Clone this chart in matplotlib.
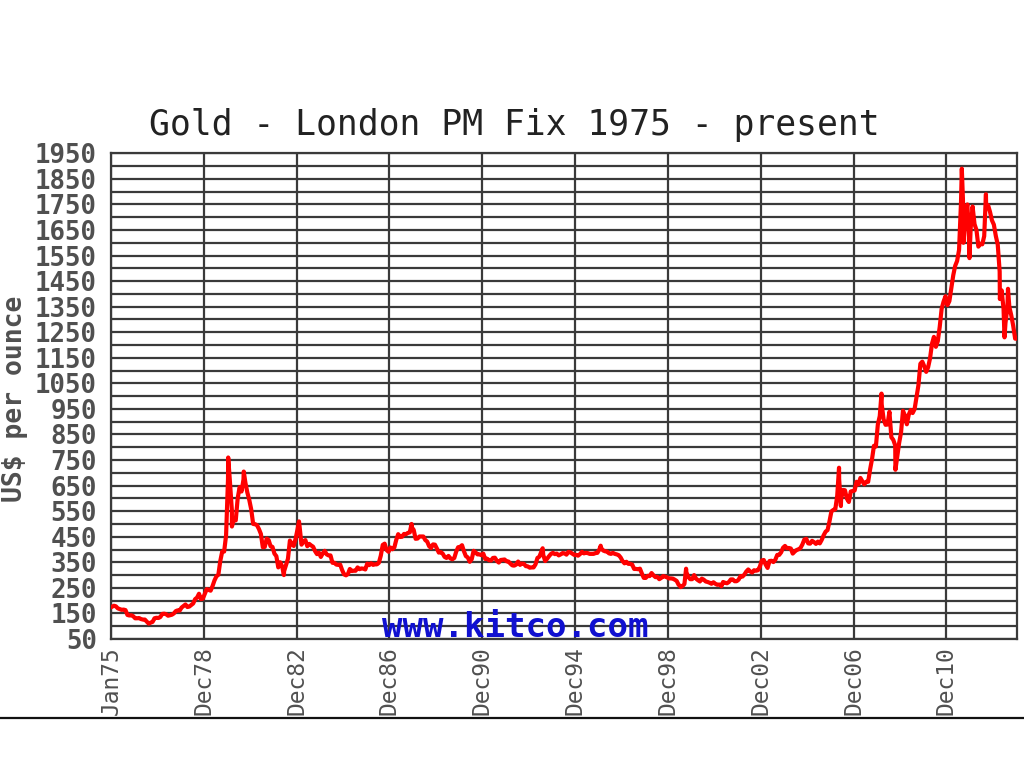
import matplotlib
matplotlib.use('Agg')
import matplotlib.pyplot as plt
from matplotlib.lines import Line2D
import numpy as np

# monthly London PM fix, US$ per ounce, Jan 1975 .. Dec 2013
start_year = 1975
monthly_price = [
    176, 180, 178, 170, 167, 164, 165, 163, 144, 142, 143, 139,   # 1975
    131, 131, 132, 128, 126, 126, 118, 110, 114, 117, 131, 133,   # 1976
    132, 136, 148, 149, 147, 141, 143, 145, 150, 159, 162, 161,   # 1977
    173, 179, 185, 175, 177, 183, 189, 206, 212, 227, 206, 208,   # 1978
    227, 245, 242, 239, 257, 279, 295, 301, 355, 392, 392, 455,   # 1979
    675, 665, 553, 517, 514, 600, 644, 627, 674, 661, 623, 594,   # 1980
    557, 500, 499, 495, 480, 461, 409, 410, 443, 437, 413, 410,   # 1981
    384, 374, 330, 350, 334, 315, 339, 364, 435, 422, 414, 444,   # 1982
    481, 491, 419, 432, 437, 413, 422, 416, 411, 394, 382, 388,   # 1983
    371, 385, 395, 381, 377, 377, 348, 348, 341, 340, 341, 320,   # 1984
    303, 299, 304, 324, 316, 317, 317, 330, 323, 326, 325, 322,   # 1985
    345, 339, 346, 340, 342, 342, 348, 376, 418, 423, 398, 391,   # 1986
    408, 401, 408, 438, 460, 449, 450, 461, 460, 465, 467, 487,   # 1987
    477, 442, 443, 451, 451, 451, 437, 431, 413, 406, 420, 419,   # 1988
    404, 388, 390, 384, 371, 367, 375, 365, 362, 367, 392, 409,   # 1989
    410, 417, 393, 374, 369, 352, 362, 395, 389, 381, 381, 378,   # 1990
    384, 363, 364, 358, 357, 367, 368, 356, 349, 359, 360, 361,   # 1991
    354, 353, 345, 338, 337, 341, 353, 340, 345, 344, 335, 334,   # 1992
    329, 330, 330, 342, 367, 372, 392, 379, 355, 364, 374, 383,   # 1993
    387, 382, 384, 377, 381, 386, 385, 380, 391, 389, 384, 379,   # 1994
    379, 376, 382, 391, 385, 387, 386, 383, 383, 383, 386, 387,   # 1995
    400, 405, 396, 393, 392, 385, 383, 387, 383, 381, 378, 369,   # 1996
    355, 346, 352, 344, 344, 341, 324, 324, 323, 325, 306, 289,   # 1997
    289, 297, 296, 308, 299, 292, 293, 284, 289, 296, 294, 291,   # 1998
    287, 287, 286, 282, 277, 262, 256, 257, 265, 311, 293, 284,   # 1999
    284, 300, 286, 280, 275, 286, 282, 275, 273, 270, 266, 272,   # 2000
    266, 262, 263, 261, 273, 270, 268, 273, 283, 283, 276, 276,   # 2001
    282, 296, 294, 302, 314, 322, 314, 310, 319, 317, 319, 333,   # 2002
    357, 359, 341, 328, 355, 356, 351, 360, 379, 379, 389, 407,   # 2003
    414, 405, 406, 404, 384, 392, 398, 401, 406, 420, 439, 442,   # 2004
    424, 423, 434, 429, 422, 431, 424, 438, 456, 470, 476, 510,   # 2005
    549, 555, 557, 610, 676, 596, 633, 632, 599, 586, 627, 629,   # 2006
    631, 665, 655, 680, 667, 655, 665, 665, 713, 754, 806, 803,   # 2007
    889, 922, 968, 909, 888, 889, 939, 839, 829, 807, 760, 816,   # 2008
    858, 943, 924, 890, 928, 946, 934, 949, 996, 1043, 1127, 1135,   # 2009
    1117, 1095, 1113, 1148, 1205, 1232, 1193, 1215, 1271, 1342, 1370, 1391,   # 2010
    1356, 1372, 1424, 1473, 1510, 1529, 1572, 1756, 1772, 1665, 1739, 1652,   # 2011
    1656, 1742, 1673, 1650, 1585, 1596, 1594, 1626, 1744, 1747, 1721, 1688,   # 2012
    1671, 1627, 1593, 1487, 1414, 1343, 1286, 1347, 1349, 1316, 1275, 1225,   # 2013
]

# daily extremes that show up as spikes on the chart
spike_dates = [1980.05, 1980.21, 1980.72, 1982.45, 1983.10, 1987.95, 1993.60,
               1996.10, 1999.55, 1999.78, 2001.30, 2006.37, 2006.45, 2008.20,
               2008.80, 2011.66, 2011.73, 2011.90, 2011.99, 2012.70, 2013.30,
               2013.50, 2013.65, 2013.99]
spike_prices = [760, 490, 705, 300, 510, 500, 405,
                415, 253, 325, 256, 720, 570, 1010,
                712, 1890, 1600, 1750, 1540, 1790, 1380,
                1230, 1420, 1225]

tick_years = [1975, 1979, 1983, 1987, 1991, 1995, 1999, 2003, 2007, 2011]
tick_labels = ['Jan75', 'Dec78', 'Dec82', 'Dec86', 'Dec90', 'Dec94',
               'Dec98', 'Dec02', 'Dec06', 'Dec10']

month_dates = start_year + (np.arange(len(monthly_price)) + 0.5) / 12.0
dates = np.concatenate([month_dates, spike_dates])
prices = np.concatenate([monthly_price, spike_prices])
order = np.argsort(dates)
dates, prices = dates[order], prices[order]

grid_col = '#3a3a3a'
label_col = '#505050'

fig = plt.figure(figsize=(10.24, 7.67), dpi=100)
ax = fig.add_axes([0.1084, 0.1669, 0.8848, 0.6332])

ax.plot(dates, prices, color='#ff0000', lw=3.0, zorder=3)

ax.set_xlim(1975.0, 2014.04)
ax.set_ylim(50, 1950)
ax.set_yticks(np.arange(50, 1951, 100))
ax.set_yticks(np.arange(100, 1951, 100), minor=True)
ax.set_xticks(tick_years)
ax.set_xticklabels(tick_labels, rotation=90)
ax.grid(True, which='both', axis='y', color=grid_col, lw=1.6, zorder=1)
ax.grid(True, which='major', axis='x', color=grid_col, lw=1.6, zorder=1)
ax.tick_params(which='both', length=0)
ax.tick_params(axis='y', pad=10, labelsize=18.5, labelcolor=label_col)
ax.tick_params(axis='x', pad=5, labelsize=16.5, labelcolor=label_col)
for lab in ax.get_yticklabels():
    lab.set_family('DejaVu Sans Mono')
    lab.set_fontweight('bold')
for lab in ax.get_xticklabels():
    lab.set_family('DejaVu Sans Mono')
for sp in ax.spines.values():
    sp.set_color(grid_col)
    sp.set_linewidth(1.6)

fig.text(0.502, 0.837, 'Gold - London PM Fix 1975 - present', ha='center', va='center',
         family='DejaVu Sans Mono', fontsize=25, color='#222222')
fig.text(15 / 1024, 0.4798, 'US$ per ounce', rotation=90, ha='center', va='center',
         family='DejaVu Sans Mono', fontsize=19, fontweight='bold', color=label_col)
fig.text(0.503, 0.1825, 'www.kitco.com', ha='center', va='center', zorder=5,
         family='DejaVu Sans Mono', fontsize=24.5, fontweight='bold', color='#1010d0')

fig.add_artist(Line2D([0, 1], [0.0639, 0.0639], color='#111111', lw=1.6))

fig.savefig('out.png', dpi=100)
